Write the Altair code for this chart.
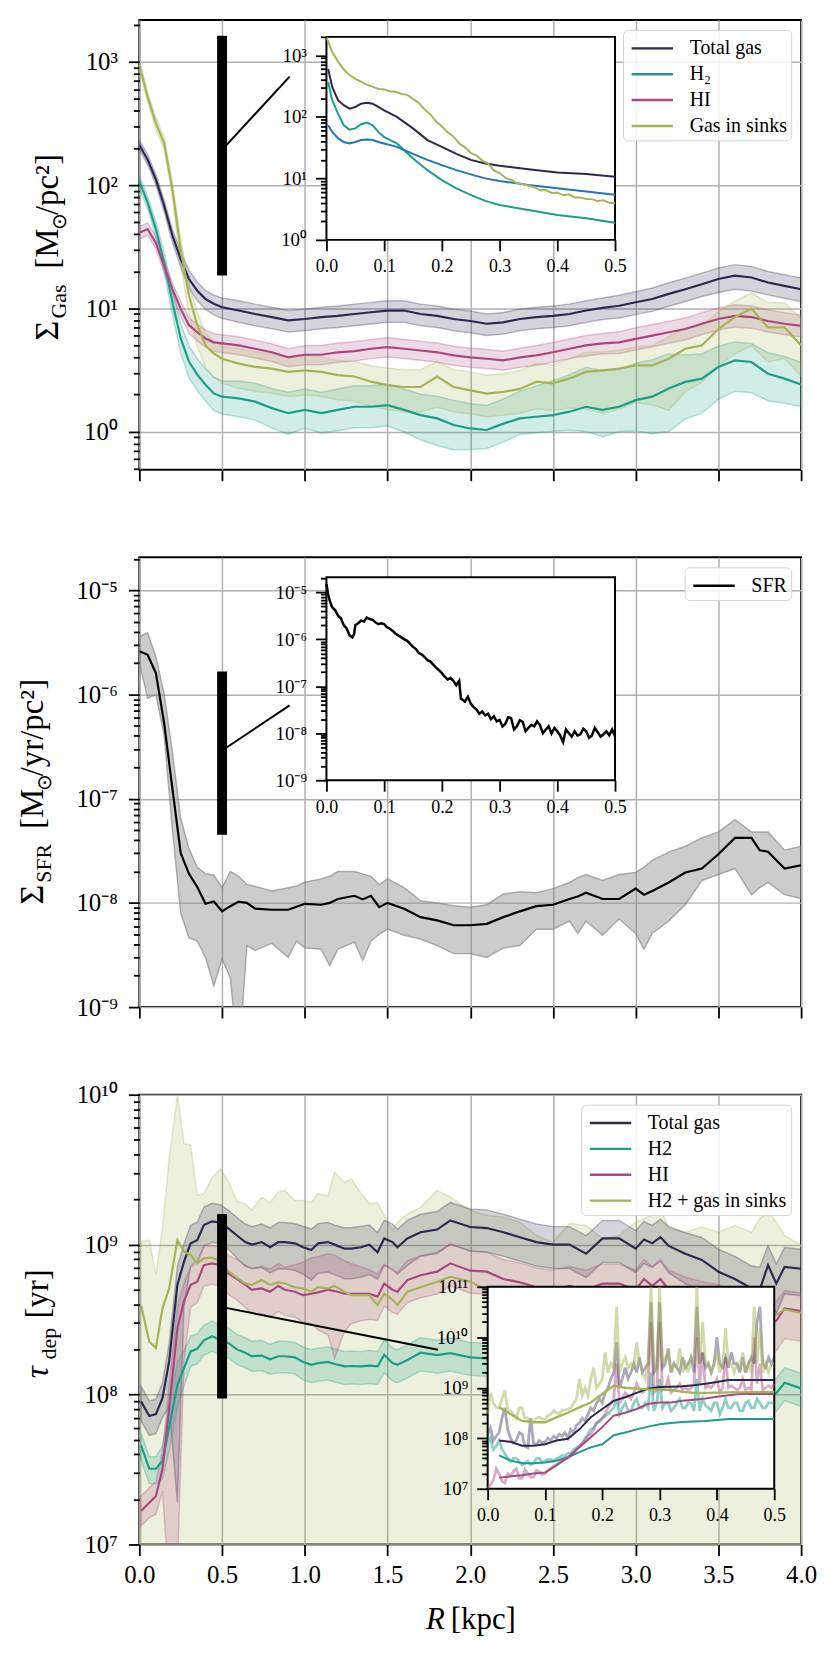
import math
import altair as alt
import pandas as pd

FONT = "Liberation Serif"
NAVY, TEAL, MAG, OLIVE, BLUE = "#2c2950", "#1c9e8b", "#a94880", "#a7b355", "#1f77b4"
W, H = 665, 452

# ---------------- Panel 1 : gas surface density ----------------
R1 = [0.0, 0.05, 0.1, 0.15, 0.2, 0.25, 0.3, 0.35, 0.4, 0.45, 0.5,
      0.6, 0.7, 0.8, 0.9, 1.0, 1.1, 1.2, 1.3, 1.4, 1.5,
      1.6, 1.7, 1.8, 1.9, 2.0, 2.1, 2.2, 2.3, 2.4, 2.5,
      2.6, 2.7, 2.8, 2.9, 3.0, 3.1, 3.2, 3.3, 3.4, 3.5,
      3.6, 3.7, 3.8, 3.9, 4.0]
GAS_TOT = [212, 161, 111, 68, 39, 25, 17.3, 13.9, 11.9, 10.9, 10.2,
           9.6, 9.0, 8.5, 8.0, 8.2, 8.5, 8.7, 9.0, 9.3, 9.6,
           9.6, 9.0, 8.7, 8.2, 7.9, 7.5, 7.7, 8.2, 8.5, 8.7,
           9.0, 9.6, 10.1, 10.5, 11.2, 11.9, 13.1, 14.3, 15.7, 17.3,
           18.4, 17.8, 16.2, 15.2, 14.3]
GAS_H2 = [107, 72, 44, 23.5, 11.2, 5.7, 3.7, 2.9, 2.4, 2.04, 1.92,
          1.86, 1.75, 1.55, 1.41, 1.50, 1.41, 1.50, 1.59, 1.59, 1.64,
          1.50, 1.36, 1.28, 1.13, 1.06, 1.03, 1.16, 1.28, 1.32, 1.36,
          1.45, 1.59, 1.50, 1.59, 1.80, 1.92, 2.24, 2.53, 2.69, 3.34,
          3.78, 3.67, 2.95, 2.69, 2.41]
GAS_HI = [41, 44, 34, 22, 14.3, 9.9, 7.3, 6.4, 5.7, 5.3, 5.2,
          5.0, 4.7, 4.4, 4.0, 4.2, 4.2, 4.4, 4.5, 4.7, 4.85,
          4.7, 4.55, 4.4, 4.15, 4.0, 3.9, 3.78, 4.0, 4.15, 4.4,
          4.7, 5.0, 5.2, 5.3, 5.65, 6.0, 6.4, 6.8, 7.5, 8.2,
          8.7, 8.5, 7.9, 7.5, 7.2]
GAS_SINK = [950, 520, 318, 218, 92, 30, 12.7, 7.3, 5.0, 4.3, 3.9,
            3.56, 3.35, 3.24, 3.05, 3.14, 3.05, 2.87, 2.8, 2.54, 2.38,
            2.3, 2.3, 2.8, 2.3, 2.16, 2.03, 2.1, 2.22, 2.54, 2.46,
            2.7, 3.05, 3.14, 3.24, 3.44, 3.44, 3.9, 4.7, 5.0, 6.8,
            8.5, 9.9, 7.0, 7.0, 5.0]
# band half-widths (dex above / below the median)
TOT_UP = [0.04, 0.04, 0.04, 0.045, 0.05, 0.06, 0.07, 0.07, 0.07, 0.07, 0.075,
          0.08, 0.08, 0.08, 0.08, 0.08, 0.08, 0.08, 0.08, 0.08, 0.08,
          0.08, 0.08, 0.08, 0.08, 0.08, 0.08, 0.08, 0.08, 0.08, 0.08,
          0.08, 0.08, 0.08, 0.085, 0.085, 0.09, 0.09, 0.09, 0.09, 0.09,
          0.09, 0.09, 0.09, 0.09, 0.09]
TOT_LO = [0.04, 0.04, 0.045, 0.05, 0.055, 0.065, 0.075, 0.08, 0.085, 0.09, 0.09,
          0.095, 0.095, 0.095, 0.095, 0.095, 0.095, 0.095, 0.095, 0.095, 0.095,
          0.095, 0.095, 0.095, 0.095, 0.095, 0.095, 0.095, 0.095, 0.095, 0.095,
          0.095, 0.095, 0.095, 0.1, 0.1, 0.1, 0.1, 0.1, 0.1, 0.11,
          0.11, 0.11, 0.1, 0.1, 0.1]
H2_UP = [0.05, 0.05, 0.06, 0.08, 0.1, 0.12, 0.13, 0.13, 0.13, 0.13, 0.13,
         0.14, 0.15, 0.16, 0.17, 0.17, 0.17, 0.17, 0.17, 0.17, 0.17,
         0.17, 0.17, 0.18, 0.2, 0.2, 0.2, 0.2, 0.22, 0.25, 0.28,
         0.3, 0.32, 0.32, 0.3, 0.3, 0.3, 0.28, 0.22, 0.2, 0.17,
         0.15, 0.15, 0.17, 0.18, 0.18]
H2_LO = [0.05, 0.05, 0.06, 0.08, 0.1, 0.12, 0.13, 0.13, 0.13, 0.14, 0.14,
         0.15, 0.15, 0.16, 0.17, 0.15, 0.16, 0.17, 0.17, 0.17, 0.17,
         0.18, 0.2, 0.22, 0.2, 0.17, 0.15, 0.15, 0.13, 0.13, 0.13,
         0.15, 0.2, 0.22, 0.2, 0.25, 0.3, 0.35, 0.3, 0.28, 0.26,
         0.25, 0.25, 0.22, 0.2, 0.18]
HI_UP = [0.05, 0.05, 0.05, 0.05, 0.05, 0.06, 0.06, 0.065, 0.07, 0.07, 0.07,
         0.07, 0.07, 0.07, 0.07, 0.075, 0.075, 0.075, 0.075, 0.075, 0.075,
         0.075, 0.075, 0.075, 0.075, 0.075, 0.075, 0.075, 0.075, 0.08, 0.08,
         0.08, 0.08, 0.08, 0.085, 0.09, 0.09, 0.09, 0.09, 0.09, 0.09,
         0.09, 0.09, 0.09, 0.09, 0.09]
HI_LO = [0.05, 0.05, 0.05, 0.05, 0.05, 0.06, 0.065, 0.07, 0.07, 0.075, 0.075,
         0.075, 0.075, 0.075, 0.075, 0.08, 0.08, 0.08, 0.08, 0.08, 0.08,
         0.08, 0.08, 0.08, 0.08, 0.08, 0.08, 0.08, 0.08, 0.08, 0.08,
         0.08, 0.085, 0.085, 0.09, 0.09, 0.09, 0.09, 0.09, 0.09, 0.09,
         0.09, 0.09, 0.09, 0.09, 0.09]
SINK_UP = [0.04, 0.04, 0.05, 0.05, 0.06, 0.08, 0.1, 0.1, 0.1, 0.1, 0.1,
           0.12, 0.12, 0.12, 0.12, 0.12, 0.12, 0.12, 0.12, 0.13, 0.14,
           0.14, 0.14, 0.12, 0.14, 0.15, 0.15, 0.15, 0.15, 0.15, 0.15,
           0.16, 0.16, 0.15, 0.15, 0.15, 0.16, 0.18, 0.17, 0.16, 0.14,
           0.13, 0.13, 0.2, 0.2, 0.22]
SINK_LO = [0.04, 0.04, 0.05, 0.05, 0.07, 0.12, 0.15, 0.17, 0.18, 0.19, 0.2,
           0.2, 0.2, 0.2, 0.2, 0.2, 0.2, 0.2, 0.2, 0.2, 0.2,
           0.2, 0.2, 0.25, 0.2, 0.19, 0.19, 0.19, 0.2, 0.22, 0.22,
           0.24, 0.3, 0.35, 0.33, 0.3, 0.32, 0.42, 0.35, 0.3, 0.3,
           0.3, 0.3, 0.28, 0.25, 0.25]
NAMES1 = ["Total gas", "H₂", "HI", "Gas in sinks"]

# inset of panel 1 (0 - 0.5 kpc)
I1X = [0.003, 0.01, 0.02, 0.03, 0.04, 0.05, 0.06, 0.07, 0.08, 0.09, 0.10, 0.122,
       0.15, 0.175, 0.2, 0.225, 0.25, 0.275, 0.3, 0.35, 0.4, 0.45, 0.5]
I1_TOT = [600, 306, 187, 155, 136, 145, 164, 170, 164, 145, 128, 100,
          65, 42, 32.5, 25, 20, 17.5, 16, 14.1, 12.5, 11.8, 10.6]
I1_H2 = [370, 187, 113, 73, 62, 65, 76, 81, 73, 57, 47, 37,
         21, 13.6, 9.4, 6.9, 5.4, 4.3, 3.7, 3.06, 2.54, 2.24, 1.9]
I1_HI = [73, 57, 45, 39, 37, 39, 42, 43, 42, 39, 37, 32.5,
         25, 20, 16.4, 13.6, 11.6, 10, 9.1, 7.8, 6.9, 6.1, 5.4]
I1SX = [0.0, 0.01, 0.02, 0.03, 0.04, 0.05, 0.06, 0.07, 0.08, 0.09, 0.10,
        0.11, 0.12, 0.13, 0.14, 0.15, 0.16, 0.17, 0.18, 0.19, 0.20,
        0.21, 0.22, 0.23, 0.24, 0.25, 0.26, 0.27, 0.28, 0.29, 0.30,
        0.31, 0.32, 0.33, 0.34, 0.35, 0.36, 0.37, 0.38, 0.39, 0.40,
        0.41, 0.42, 0.43, 0.44, 0.45, 0.46, 0.47, 0.48, 0.49, 0.50]
I1_SINK = [2200, 1130, 800, 590, 480, 415, 375, 335, 310, 285, 280,
           262, 256, 236, 228, 196, 168, 132, 110, 84, 70,
           56, 48, 37, 32, 26, 23.5, 19.5, 17.5, 13.5, 12.2,
           10.2, 9.5, 8.3, 8.1, 7.6, 7.2, 6.4, 6.5, 5.8, 5.9,
           5.3, 5.5, 4.9, 4.9, 4.6, 4.6, 4.3, 4.4, 4.0, 3.9]

# ---------------- Panel 2 : SFR surface density ----------------
R2 = [0.0, 0.05, 0.1, 0.15, 0.2, 0.25, 0.3, 0.35, 0.4, 0.45,
      0.5, 0.55, 0.6, 0.65, 0.7, 0.8, 0.9, 0.95, 1.0, 1.1,
      1.15, 1.2, 1.3, 1.35, 1.4, 1.45, 1.5, 1.6, 1.7, 1.8,
      1.9, 2.0, 2.1, 2.2, 2.3, 2.4, 2.5, 2.6, 2.65, 2.7,
      2.8, 2.9, 3.0, 3.05, 3.1, 3.2, 3.3, 3.4, 3.5, 3.6,
      3.7, 3.75, 3.8, 3.9, 4.0]
SFR_MED = [2.6e-6, 2.4e-6, 1.6e-6, 5.3e-7, 1.24e-7, 3.0e-8, 1.9e-8, 1.42e-8, 9.8e-9, 1.03e-8,
           8.3e-9, 9.3e-9, 1.03e-8, 1.0e-8, 8.8e-9, 8.6e-9, 8.6e-9, 9.2e-9, 9.8e-9, 9.6e-9,
           1.0e-8, 1.09e-8, 1.17e-8, 1.08e-8, 1.17e-8, 9.1e-9, 1.0e-8, 8.8e-9, 7.3e-9, 6.8e-9,
           6.1e-9, 6.1e-9, 6.3e-9, 7.3e-9, 8.3e-9, 9.3e-9, 9.6e-9, 1.09e-8, 1.15e-8, 1.25e-8,
           1.09e-8, 1.09e-8, 1.37e-8, 1.2e-8, 1.3e-8, 1.57e-8, 1.96e-8, 2.14e-8, 2.93e-8, 4.2e-8,
           4.2e-8, 3.2e-8, 3.1e-8, 2.14e-8, 2.3e-8]
SFR_HI = [3.6e-6, 3.9e-6, 2.3e-6, 1.0e-6, 2.75e-7, 6.5e-8, 3.3e-8, 2.2e-8, 1.9e-8, 1.85e-8,
          1.4e-8, 2.0e-8, 1.8e-8, 1.5e-8, 1.44e-8, 1.3e-8, 1.4e-8, 1.45e-8, 1.58e-8, 1.7e-8,
          1.8e-8, 2.0e-8, 2.0e-8, 1.9e-8, 1.8e-8, 1.5e-8, 1.7e-8, 1.4e-8, 1.05e-8, 1.0e-8,
          9.4e-9, 9.1e-9, 9.6e-9, 1.22e-8, 1.28e-8, 1.25e-8, 1.37e-8, 1.57e-8, 1.75e-8, 1.87e-8,
          1.64e-8, 1.87e-8, 1.96e-8, 2.2e-8, 2.56e-8, 3.07e-8, 3.5e-8, 4.2e-8, 4.8e-8, 6.3e-8,
          4.8e-8, 4.8e-8, 4.8e-8, 3.2e-8, 3.5e-8]
SFR_LO = [2.0e-6, 9.2e-7, 1.0e-6, 4.0e-7, 5.0e-8, 8.0e-9, 4.6e-9, 4.3e-9, 3.0e-9, 1.6e-9,
          2.9e-9, 1.9e-9, 3.0e-10, 3.9e-9, 3.5e-9, 4.1e-9, 3.0e-9, 4.3e-9, 3.7e-9, 3.6e-9,
          2.5e-9, 3.6e-9, 4.2e-9, 2.8e-9, 4.3e-9, 5.0e-9, 5.6e-9, 4.9e-9, 4.5e-9, 3.9e-9,
          3.26e-9, 3.26e-9, 3.0e-9, 3.7e-9, 3.9e-9, 5.6e-9, 5.6e-9, 6.7e-9, 5.1e-9, 6.7e-9,
          4.9e-9, 7.0e-9, 5.1e-9, 3.6e-9, 5.1e-9, 6.7e-9, 9.6e-9, 1.64e-8, 1.87e-8, 2.14e-8,
          1.2e-8, 1.4e-8, 1.57e-8, 1.2e-8, 1.1e-8]

I2X = [0.0, 0.003, 0.006, 0.01, 0.015, 0.02, 0.025, 0.03, 0.035, 0.04, 0.045, 0.048,
       0.05, 0.055, 0.06, 0.065, 0.07, 0.075, 0.08, 0.085, 0.09, 0.095, 0.10,
       0.105, 0.11, 0.115, 0.12, 0.125, 0.13, 0.135, 0.14, 0.145, 0.15, 0.155,
       0.16, 0.165, 0.17, 0.175, 0.18, 0.185, 0.19, 0.195, 0.20, 0.205, 0.21,
       0.215, 0.22, 0.225, 0.23, 0.233, 0.24, 0.245, 0.25, 0.255, 0.26, 0.265,
       0.27, 0.275, 0.28, 0.285, 0.29, 0.295, 0.30, 0.305, 0.31, 0.315, 0.32,
       0.325, 0.33, 0.335, 0.34, 0.345, 0.35, 0.355, 0.36, 0.365, 0.37, 0.375,
       0.38, 0.385, 0.39, 0.395, 0.40, 0.405, 0.41, 0.415, 0.42, 0.425, 0.43,
       0.435, 0.44, 0.445, 0.45, 0.455, 0.46, 0.465, 0.47, 0.475, 0.48, 0.485,
       0.49, 0.495, 0.50]
I2_SFR = [1.5e-5, 9e-6, 6.5e-6, 4.8e-6, 4.2e-6, 3.2e-6, 2.8e-6, 2.0e-6, 1.7e-6, 1.22e-6, 1.1e-6, 1.3e-6,
          2.0e-6, 2.2e-6, 2.5e-6, 2.4e-6, 2.9e-6, 2.7e-6, 2.6e-6, 2.3e-6, 2.1e-6, 2.2e-6, 2.1e-6,
          1.8e-6, 1.68e-6, 1.5e-6, 1.32e-6, 1.2e-6, 1.1e-6, 1.0e-6, 9.3e-7, 8.0e-7, 6.9e-7, 6.2e-7,
          5.1e-7, 4.8e-7, 4.2e-7, 3.6e-7, 3.4e-7, 2.9e-7, 2.5e-7, 2.2e-7, 1.9e-7, 1.6e-7, 1.4e-7,
          1.5e-7, 1.3e-7, 1.05e-7, 1.3e-7, 5.5e-8, 4.7e-8, 6.0e-8, 4.3e-8, 3.6e-8, 3.2e-8, 2.6e-8,
          2.9e-8, 2.4e-8, 2.6e-8, 2.0e-8, 2.3e-8, 1.8e-8, 1.93e-8, 1.4e-8, 1.6e-8, 2.2e-8, 2.1e-8,
          1.2e-8, 1.4e-8, 1.9e-8, 1.75e-8, 1.1e-8, 1.3e-8, 1.5e-8, 1.4e-8, 1.8e-8, 1.5e-8, 1.0e-8,
          1.2e-8, 1.4e-8, 9.9e-9, 1.3e-8, 1.1e-8, 9.0e-9, 6.5e-9, 1.2e-8, 1.0e-8, 8.5e-9, 1.1e-8,
          9.0e-9, 9.5e-9, 1.25e-8, 1.1e-8, 8.0e-9, 9.0e-9, 1.3e-8, 1.05e-8, 8.5e-9, 9.5e-9, 1.1e-8,
          9.0e-9, 1.2e-8, 8.6e-9]

# ---------------- Panel 3 : depletion time ----------------
R3 = [0.01, 0.06, 0.10, 0.14, 0.18, 0.23, 0.27, 0.31, 0.35, 0.39,
      0.44, 0.49, 0.54, 0.59, 0.64, 0.68, 0.74, 0.79, 0.84, 0.88,
      0.94, 0.99, 1.04, 1.08, 1.14, 1.18, 1.24, 1.28, 1.34, 1.39,
      1.44, 1.48, 1.53, 1.56, 1.62,
      1.70, 1.80, 1.88, 2.0, 2.1, 2.2, 2.3, 2.4, 2.5, 2.6,
      2.7, 2.8, 2.9, 3.0, 3.05, 3.1, 3.15, 3.2, 3.3, 3.4,
      3.5, 3.6, 3.7, 3.75, 3.8, 3.85, 3.9, 4.0]
TAU_TOT = [9.0e7, 7.2e7, 7.4e7, 9.5e7, 1.66e8, 5.4e8, 7.7e8, 1.02e9, 1.07e9, 1.35e9,
           1.43e9, 1.4e9, 1.28e9, 1.15e9, 1.04e9, 1.0e9, 1.04e9, 9.6e8, 1.04e9, 1.04e9,
           1.02e9, 9.6e8, 9.2e8, 1.02e9, 1.04e9, 1.0e9, 9.4e8, 9.4e8, 9.6e8, 1.0e9,
           8.9e8, 1.1e9, 1.04e9, 9.6e8, 1.1e9,
           1.21e9, 1.26e9, 1.45e9, 1.31e9, 1.29e9, 1.21e9, 1.12e9, 1.04e9, 1.0e9, 1.0e9,
           8.7e8, 1.1e9, 1.1e9, 9.4e8, 1.08e9, 1.02e9, 1.12e9, 9.8e8, 8.7e8, 7.9e8,
           6.6e8, 5.9e8, 5.1e8, 5.0e8, 7.3e8, 5.5e8, 7.1e8, 6.9e8]
TAU_H2 = [4.6e7, 3.2e7, 3.2e7, 3.6e7, 6.0e7, 1.16e8, 1.5e8, 1.94e8, 2.02e8, 2.3e8,
          2.45e8, 2.3e8, 2.2e8, 2.0e8, 1.9e8, 1.8e8, 1.82e8, 1.72e8, 1.8e8, 1.8e8,
          1.77e8, 1.65e8, 1.58e8, 1.62e8, 1.65e8, 1.6e8, 1.54e8, 1.55e8, 1.54e8, 1.56e8,
          1.54e8, 1.84e8, 1.62e8, 1.58e8, 1.7e8,
          1.9e8, 1.83e8, 1.89e8, 1.77e8, 1.74e8, 1.7e8, 1.65e8, 1.6e8, 1.6e8, 1.55e8,
          1.5e8, 1.5e8, 1.55e8, 1.5e8, 1.55e8, 1.5e8, 1.45e8, 1.4e8, 1.4e8, 1.35e8,
          1.3e8, 1.2e8, 1.1e8, 1.05e8, 1.0e8, 1.02e8, 1.2e8, 1.1e8]
TAU_HI = [1.67e7, 1.9e7, 2.1e7, 3.2e7, 8.1e7, 2.77e8, 4.2e8, 5.4e8, 5.65e8, 7.3e8,
          7.5e8, 7.3e8, 6.4e8, 5.9e8, 5.4e8, 5.0e8, 5.1e8, 4.85e8, 5.3e8, 5.0e8,
          4.85e8, 4.6e8, 4.7e8, 4.8e8, 5.0e8, 4.9e8, 4.7e8, 4.7e8, 4.7e8, 4.7e8,
          4.5e8, 5.5e8, 5.0e8, 4.85e8, 5.8e8,
          6.25e8, 6.6e8, 7.5e8, 6.7e8, 6.6e8, 5.9e8, 5.6e8, 5.2e8, 5.0e8, 5.3e8,
          5.0e8, 5.5e8, 5.5e8, 5.0e8, 5.9e8, 5.3e8, 5.9e8, 5.0e8, 4.5e8, 4.2e8,
          4.0e8, 3.6e8, 3.3e8, 3.2e8, 3.0e8, 3.1e8, 3.75e8, 3.6e8]
TAU_SINK = [3.95e8, 2.25e8, 2.04e8, 3.76e8, 5.1e8, 1.07e9, 9.0e8, 8.5e8, 7.5e8, 8.1e8,
            8.2e8, 7.7e8, 6.6e8, 6.0e8, 5.5e8, 5.4e8, 5.8e8, 5.4e8, 5.6e8, 5.5e8,
            5.2e8, 5.1e8, 4.85e8, 5.2e8, 5.1e8, 5.3e8, 4.85e8, 4.6e8, 4.6e8, 4.6e8,
            3.95e8, 4.7e8, 4.3e8, 3.95e8, 4.85e8,
            5.2e8, 5.65e8, 6.1e8, 5.65e8, 5.0e8, 4.8e8, 4.6e8, 4.5e8, 4.5e8, 4.6e8,
            4.5e8, 4.6e8, 4.6e8, 4.5e8, 4.5e8, 4.4e8, 4.4e8, 4.3e8, 4.2e8, 4.1e8,
            4.0e8, 3.8e8, 3.5e8, 3.4e8, 3.3e8, 3.4e8, 3.7e8, 3.5e8]
TAU_SINK_UPPER = [1.04e9, 1.07e9, 6.25e8, 1.28e9, 3.7e9, 1.0e10, 4.7e9, 4.6e9, 2.13e9, 2.18e9,
                  2.8e9, 3.2e9, 2.6e9, 1.95e9, 1.87e9, 1.7e9, 2.07e9, 1.9e9, 2.24e9, 2.3e9,
                  1.97e9, 1.97e9, 1.92e9, 2.2e9, 2.1e9, 3.04e9, 2.6e9, 2.75e9, 2.2e9, 1.87e9,
                  1.9e9, 1.57e9, 1.25e9, 1.41e9, 1.6e9,
                  1.78e9, 2.3e9, 2.07e9, 1.69e9, 1.57e9, 1.53e9, 1.41e9, 1.15e9, 1.04e9, 1.38e9,
                  1.34e9, 1.1e9, 1.15e9, 1.41e9, 1.49e9, 1.57e9, 1.74e9, 1.28e9, 1.21e9, 1.31e9,
                  1.21e9, 1.34e9, 1.21e9, 1.49e9, 1.65e9, 1.41e9, 1.15e9, 9.9e8]
# lower edge of the sink band lies below the axis everywhere
TAU_SINK_LOWER = [1e6, 1e6, 1e6, 1e6, 1e6, 1e6, 1e6, 1e6, 1e6, 1e6,
                  1e6, 1e6, 1e6, 1e6, 1e6, 1e6, 1e6, 1e6, 1e6, 1e6,
                  1e6, 1e6, 1e6, 1e6, 1e6, 1e6, 1e6, 1e6, 1e6, 1e6,
                  1e6, 1e6, 1e6, 1e6, 1e6,
                  1e6, 1e6, 1e6, 1e6, 1e6, 1e6, 1e6, 1e6, 1e6, 1e6,
                  1e6, 1e6, 1e6, 1e6, 1e6, 1e6, 1e6, 1e6, 1e6, 1e6,
                  1e6, 1e6, 1e6, 1e6, 1e6, 1e6, 1e6, 1e6]
NAV3_UP = [0.1, 0.1, 0.1, 0.1, 0.12, 0.12, 0.12, 0.12, 0.12, 0.12,
           0.12, 0.12, 0.12, 0.12, 0.12, 0.12, 0.12, 0.13, 0.13, 0.13,
           0.13, 0.14, 0.14, 0.13, 0.13, 0.13, 0.14, 0.14, 0.14, 0.13,
           0.13, 0.12, 0.12, 0.12, 0.12,
           0.12, 0.12, 0.12, 0.12, 0.12, 0.12, 0.12, 0.12, 0.12, 0.12,
           0.12, 0.12, 0.12, 0.12, 0.12, 0.12, 0.12, 0.13, 0.14, 0.15,
           0.15, 0.15, 0.15, 0.15, 0.13, 0.13, 0.13, 0.13]
NAV3_LO = [0.13, 0.13, 0.13, 0.13, 0.3, 1.45, 0.3, 0.15, 0.14, 0.14,
           0.14, 0.14, 0.14, 0.15, 0.16, 0.16, 0.17, 0.17, 0.18, 0.18,
           0.18, 0.18, 0.2, 0.2, 0.2, 0.2, 0.2, 0.2, 0.2, 0.2,
           0.18, 0.18, 0.18, 0.18, 0.18,
           0.16, 0.16, 0.16, 0.16, 0.16, 0.16, 0.16, 0.16, 0.16, 0.16,
           0.16, 0.16, 0.16, 0.16, 0.16, 0.16, 0.16, 0.18, 0.2, 0.2,
           0.22, 0.22, 0.22, 0.22, 0.2, 0.2, 0.18, 0.18]
MAG3_UP = [0.1, 0.1, 0.1, 0.12, 0.15, 0.15, 0.12, 0.12, 0.12, 0.12,
           0.12, 0.12, 0.12, 0.13, 0.13, 0.14, 0.15, 0.15, 0.15, 0.15,
           0.18, 0.22, 0.24, 0.24, 0.24, 0.24, 0.22, 0.2, 0.18, 0.16,
           0.15, 0.13, 0.13, 0.13, 0.13,
           0.13, 0.13, 0.13, 0.13, 0.13, 0.13, 0.13, 0.13, 0.13, 0.13,
           0.13, 0.13, 0.13, 0.13, 0.13, 0.13, 0.13, 0.13, 0.13, 0.13,
           0.13, 0.13, 0.13, 0.13, 0.13, 0.13, 0.12, 0.12]
MAG3_LO = [0.1, 0.1, 0.12, 0.15, 1.2, 1.6, 0.4, 0.15, 0.14, 0.14,
           0.14, 0.14, 0.14, 0.14, 0.15, 0.16, 0.17, 0.17, 0.17, 0.17,
           0.17, 0.18, 0.2, 0.25, 0.3, 0.45, 0.25, 0.2, 0.18, 0.17,
           0.16, 0.15, 0.15, 0.15, 0.15,
           0.15, 0.15, 0.15, 0.15, 0.15, 0.15, 0.15, 0.15, 0.15, 0.15,
           0.15, 0.15, 0.15, 0.15, 0.15, 0.15, 0.15, 0.15, 0.15, 0.15,
           0.15, 0.15, 0.15, 0.15, 0.15, 0.2, 0.2, 0.2]
TEAL3_UP = [0.08, 0.08, 0.08, 0.1, 0.15, 0.15, 0.12, 0.1, 0.1, 0.1,
            0.1, 0.1, 0.1, 0.1, 0.1, 0.1, 0.1, 0.1, 0.1, 0.1,
            0.1, 0.1, 0.1, 0.1, 0.1, 0.1, 0.1, 0.1, 0.1, 0.1,
            0.1, 0.1, 0.1, 0.1, 0.1,
            0.1, 0.1, 0.1, 0.1, 0.1, 0.1, 0.1, 0.1, 0.1, 0.1,
            0.1, 0.1, 0.1, 0.1, 0.1, 0.1, 0.1, 0.1, 0.1, 0.1,
            0.1, 0.1, 0.1, 0.1, 0.1, 0.1, 0.1, 0.1]
TEAL3_LO = [0.1, 0.1, 0.1, 0.12, 0.15, 0.15, 0.12, 0.1, 0.1, 0.1,
            0.1, 0.1, 0.1, 0.1, 0.1, 0.1, 0.1, 0.1, 0.11, 0.11,
            0.11, 0.12, 0.12, 0.12, 0.12, 0.12, 0.12, 0.12, 0.12, 0.12,
            0.12, 0.12, 0.12, 0.12, 0.12,
            0.12, 0.12, 0.12, 0.12, 0.12, 0.12, 0.12, 0.12, 0.12, 0.12,
            0.12, 0.12, 0.12, 0.12, 0.12, 0.12, 0.12, 0.12, 0.12, 0.12,
            0.12, 0.12, 0.12, 0.12, 0.12, 0.12, 0.12, 0.12]
NAMES3 = ["Total gas", "H2", "HI", "H2 + gas in sinks"]

I3X = [0.02, 0.04, 0.06, 0.08, 0.10, 0.12, 0.14, 0.16, 0.18, 0.20, 0.22, 0.24, 0.26,
       0.28, 0.30, 0.32, 0.34, 0.36, 0.38, 0.40, 0.42, 0.44, 0.46, 0.48, 0.50]
I3_SINK = [4.1e8, 3.0e8, 2.2e8, 2.07e8, 2.07e8, 2.6e8, 3.2e8, 4.1e8, 5.1e8, 7.5e8, 1.1e9, 1.0e9, 9.6e8,
           9.3e8, 9.2e8, 9.0e8, 8.3e8, 7.9e8, 7.9e8, 8.0e8, 8.1e8, 8.1e8, 8.2e8, 8.2e8, 8.3e8]
I3_TOT = [9e7, 8.5e7, 7.1e7, 7.1e7, 7.6e7, 9e7, 9.8e7, 1.5e8, 2.6e8, 3.8e8, 5.5e8, 6.5e8, 7.9e8,
          9.6e8, 1.03e9, 1.05e9, 1.07e9, 1.12e9, 1.2e9, 1.3e9, 1.42e9, 1.42e9, 1.42e9, 1.42e9, 1.42e9]
I3_HI = [1.66e7, 1.76e7, 1.85e7, 2e7, 2.1e7, 2.9e7, 4.2e7, 6.6e7, 1.05e8, 1.66e8, 2.8e8, 3.2e8, 3.8e8,
         4.8e8, 5.1e8, 5.1e8, 5.5e8, 5.8e8, 6.1e8, 6.6e8, 7.1e8, 7.5e8, 7.5e8, 7.5e8, 7.5e8]
I3_H2 = [4.6e7, 3.6e7, 3.2e7, 3.2e7, 3.3e7, 3.6e7, 4.2e7, 5.3e7, 6.6e7, 7.6e7, 1.15e8, 1.3e8, 1.5e8,
         1.7e8, 1.9e8, 2.0e8, 2.1e8, 2.15e8, 2.2e8, 2.3e8, 2.4e8, 2.4e8, 2.4e8, 2.4e8, 2.4e8]
# unsmoothed (noisy) profiles of the panel-3 inset, sampled every 5 pc
I3NX = [0.000, 0.005, 0.010, 0.015, 0.020, 0.025, 0.030, 0.035, 0.040, 0.045,
        0.050, 0.055, 0.060, 0.065, 0.070, 0.075, 0.080, 0.085, 0.090, 0.095, 0.100,
        0.105, 0.110, 0.115, 0.120, 0.125, 0.130, 0.135, 0.140, 0.145, 0.150,
        0.155, 0.160, 0.165, 0.170, 0.175, 0.180, 0.185, 0.190, 0.195, 0.200,
        0.205, 0.210, 0.215, 0.220, 0.225, 0.230, 0.235, 0.240, 0.245, 0.250,
        0.255, 0.260, 0.265, 0.270, 0.275, 0.280, 0.285, 0.290, 0.295, 0.300,
        0.305, 0.310, 0.315, 0.320, 0.325, 0.330, 0.335, 0.340, 0.345, 0.350,
        0.355, 0.360, 0.365, 0.370, 0.375, 0.380, 0.385, 0.390, 0.395, 0.400,
        0.405, 0.410, 0.415, 0.420, 0.425, 0.430, 0.435, 0.440, 0.445, 0.450,
        0.455, 0.460, 0.465, 0.470, 0.475, 0.480, 0.485, 0.490, 0.495, 0.500]
I3N_TOT = [1.2e8, 1.6e8, 9e7, 1.1e8, 1.3e8, 2.5e8, 4e8, 1.5e8, 1e8, 8e7,
           9e7, 1.3e8, 1.2e8, 7e7, 6.5e7, 2.5e8, 8e7, 7.5e7, 9e7, 8e7, 8.5e7,
           1.0e8, 9e7, 1.1e8, 1e8, 1.2e8, 1.1e8, 1.3e8, 1e8, 1.5e8, 1.3e8,
           1.8e8, 2e8, 2.5e8, 2.2e8, 3e8, 4e8, 3.5e8, 5e8, 6e8, 5e8,
           8e8, 1e9, 1.5e9, 2e9, 8e9, 1e9, 1.5e9, 2.5e9, 1.5e9, 2e9,
           3e9, 2e9, 4e9, 2e9, 2.5e9, 3e9, 5e10, 2e9, 2.5e9, 5e10,
           2.5e9, 3e9, 6e9, 2e9, 3e9, 2.5e9, 2e9, 4e9, 2.5e9, 3e9,
           4e9, 2e9, 4e10, 3e9, 5e9, 2.5e9, 3e9, 2e9, 3e9, 1e10,
           3e9, 2.5e9, 4e9, 2.5e9, 5e9, 3e9, 3e9, 2e9, 4e9, 2e9,
           3e9, 4e9, 3e9, 2e10, 4e10, 3e9, 2.5e9, 4e9, 3e9, 4e9]
I3N_SINK = [3e8, 8e8, 5e8, 4e8, 4e8, 6e8, 9e8, 3.5e8, 3.5e8, 3e8,
            2.5e8, 4e8, 4e8, 2.5e8, 2.5e8, 2.2e8, 2.2e8, 2.5e8, 2.6e8, 2.4e8, 2.4e8,
            2.8e8, 3e8, 3.5e8, 3.2e8, 3e8, 3.6e8, 3.6e8, 3.8e8, 4e8, 5e8,
            6e8, 1.5e9, 7e8, 1e9, 7e8, 1.5e9, 2.5e9, 1e9, 1.2e9, 1.5e9,
            5e9, 2e9, 3e9, 2.5e9, 4e10, 2e9, 3e9, 4e9, 2.5e9, 3e9,
            2.5e9, 8e9, 3e9, 2e9, 1.5e9, 3e9, 2e11, 3e9, 2e9, 2e11,
            3e9, 4e9, 5e9, 2e9, 3e9, 2.5e9, 6e9, 2e9, 3e9, 2e9,
            4e9, 3e9, 1.2e11, 3e9, 2e10, 3e9, 3e9, 2e9, 3e9, 5e9,
            2e9, 3e9, 1.5e10, 3e9, 3e9, 2e9, 3e9, 2.5e9, 5e9, 2e9,
            3e9, 2e9, 4e10, 3e9, 1.5e10, 2e9, 3e9, 2e9, 3e9, 3e9]
I3N_H2 = [8e7, 1e8, 6e7, 7e7, 9e7, 6e7, 5e7, 4e7, 3.5e7, 4e7,
          4e7, 3.5e7, 3e7, 3.2e7, 3.5e7, 3e7, 3.2e7, 4e7, 4e7, 3.3e7, 3.5e7,
          3.8e7, 3.8e7, 3.5e7, 4e7, 4.2e7, 4.5e7, 4.5e7, 5e7, 5e7, 6e7,
          6.5e7, 7e7, 8e7, 1e8, 1.2e8, 1.5e8, 1.6e8, 2e8, 2.2e8, 2.5e8,
          2.8e8, 3e8, 3.5e8, 4e8, 6e8, 3e8, 4e8, 5e8, 3.5e8, 3.5e8,
          5e8, 6e8, 4e8, 4e8, 5e8, 4e8, 2e9, 3.5e8, 5e8, 1.5e9,
          4e8, 5e8, 5e8, 3.5e8, 4e8, 5e8, 6e8, 4e8, 4e8, 5e8,
          5e8, 3.5e8, 1.5e9, 3.5e8, 6e8, 4.5e8, 4e8, 3.5e8, 5e8, 5e8,
          3e8, 4e8, 6e8, 4e8, 4e8, 5e8, 5e8, 3.5e8, 3.5e8, 5e8,
          5.5e8, 4e8, 4e8, 6e8, 5e8, 4e8, 4e8, 5e8, 5e8, 5e8]
I3N_HI = [1e7, 1.2e7, 1.5e7, 2.5e7, 2e7, 1.4e7, 1.3e7, 2e7, 1.8e7, 2.2e7,
          2.5e7, 1.6e7, 1.6e7, 2.4e7, 2e7, 1.7e7, 1.7e7, 2.3e7, 2.2e7, 1.9e7, 2e7,
          2.3e7, 2.5e7, 2.8e7, 3e7, 3.3e7, 3.5e7, 3.8e7, 4e7, 4.5e7, 5e7,
          6e7, 7e7, 8e7, 9e7, 1.1e8, 1.2e8, 1.5e8, 2e8, 2.2e8, 2.5e8,
          3e8, 4e8, 5e8, 6e8, 3e9, 5e8, 6e8, 8e8, 7e8, 6e8,
          8e8, 1.2e9, 9e8, 8e8, 9e8, 1e9, 2e10, 8e8, 9e8, 2e10,
          9e8, 1e9, 1.5e9, 8e8, 9e8, 1e9, 1.2e9, 9e8, 1e9, 9e8,
          1e9, 1.2e9, 1e10, 1.2e9, 5e9, 1e9, 1.1e9, 1e9, 1.2e9, 1.5e9,
          8e8, 1e9, 4e9, 1e9, 1.1e9, 1e9, 9e8, 1e9, 1.5e9, 9e8,
          1e9, 9e8, 1e10, 1.2e9, 3e9, 9e8, 1e9, 1.1e9, 1e9, 1.2e9]

# zoom markers (bar at 0.5 kpc and connector line) in data units
P1_BAR = (0.5, 18.5, 1630); P1_CON = (0.5, 193, 0.908, 760)
P2_BAR = (0.5, 4.5e-8, 1.66e-6); P2_CON = (0.5, 2.9e-7, 0.908, 7.85e-7)
P3_BAR = (0.5, 9.4e7, 1.6e9); P3_CON = (0.5, 3.83e8, 1.805, 1.99e8)

# ---------------- helpers ----------------
SUP = str.maketrans("0123456789-", "⁰¹²³⁴⁵⁶⁷⁸⁹⁻")
L10 = "(log(datum.value)/LN10)"
MAJOR = f"abs({L10} - round({L10})) < 0.001"


def log_ticks(dom):
    lo = math.floor(math.log10(dom[0]))
    hi = math.ceil(math.log10(dom[1]))
    vals, exps = [], []
    for e in range(lo, hi + 1):
        for m in range(1, 10):
            v = float(f"{m}e{e}")
            if dom[0] * 0.9999 <= v <= dom[1] * 1.0001:
                vals.append(v)
                if m == 1:
                    exps.append(e)
    return vals, exps


def label_expr(exps):
    s = "''"
    for e in exps:
        s = f"(round({L10}) == {e} ? '10{str(e).translate(SUP)}' : {s})"
    return f"{MAJOR} ? {s} : ''"


def yaxis(dom, size, pad, offset=0, grid=True, z=0):
    vals, exps = log_ticks(dom)
    kw = dict(values=vals, labelExpr=label_expr(exps), title=None, domain=False,
              tickColor="black", tickWidth=1.8, orient="left",
              tickSize={"condition": {"test": MAJOR, "value": 11}, "value": 6},
              labelFont=FONT, labelColor="black", labelPadding=pad,
              labelFontSize={"condition": {"test": MAJOR, "value": size}, "value": 0},
              labelOverlap=False, labelBound=False, grid=grid, zindex=z)
    if grid:
        kw.update(gridColor="#b0b0b0", gridWidth=1.5,
                  gridOpacity={"condition": {"test": MAJOR, "value": 1}, "value": 0})
    if offset:
        kw["offset"] = offset
    return alt.Axis(**kw)


def xaxis_main(labels):
    return alt.Axis(values=[0, 0.5, 1.0, 1.5, 2.0, 2.5, 3.0, 3.5, 4.0], format=".1f",
                    labels=labels, title=None, domain=False, tickColor="black",
                    tickWidth=1.8, tickSize=11, grid=True, gridColor="#b0b0b0",
                    gridWidth=1.5, labelFont=FONT, labelFontSize=25, labelColor="black",
                    labelPadding=7, labelFlush=False, orient="bottom")


def xaxis_inset(offset):
    return alt.Axis(values=[0, 0.1, 0.2, 0.3, 0.4, 0.5], format=".1f", title=None,
                    domain=False, tickColor="black", tickWidth=1.8, tickSize=11,
                    grid=False, labelFont=FONT, labelFontSize=18, labelColor="black",
                    labelPadding=7, labelFlush=False, orient="bottom", offset=offset,
                    zindex=1)


class Enc:
    def __init__(self, ydom, labels=False, inset=None):
        self.ydom = ydom
        self.labels = labels
        self.inset = inset

    def mx(self, f):
        return alt.X(f"{f}:Q", scale=alt.Scale(domain=[0, 4], nice=False, zero=False),
                     axis=xaxis_main(self.labels))

    def my(self, f):
        return alt.Y(f"{f}:Q", scale=alt.Scale(type="log", domain=self.ydom, nice=False),
                     axis=yaxis(self.ydom, 25, 11))

    def ix(self, f):
        i = self.inset
        return alt.X(f"{f}:Q", scale=alt.Scale(domain=[0, 0.5], nice=False, zero=False,
                                               range=[i["x0"], i["x1"]]),
                     axis=xaxis_inset(-(H - i["yb"])))

    def iy(self, f):
        i = self.inset
        return alt.Y(f"{f}:Q", scale=alt.Scale(type="log", domain=i["dom"], nice=False,
                                               range=[i["yb"], i["yt"]], clamp=True),
                     axis=yaxis(i["dom"], 19, 9, offset=-i["x0"], grid=False, z=1))


def band(r, med, up, lo):
    return pd.DataFrame({"r": r, "lo": [m / 10 ** w for m, w in zip(med, lo)],
                         "hi": [m * 10 ** w for m, w in zip(med, up)]})


def area_layer(e, df, color, op=0.2, sop=0.3):
    return alt.Chart(df).mark_area(clip=True, fill=color, fillOpacity=op, stroke=color,
                                   strokeOpacity=sop, strokeWidth=1.5).encode(
        x=e.mx("r"), y=e.my("lo"), y2=alt.Y2("hi:Q"))


def line_layer(e, r, series, names, colors):
    rows = []
    for name, vals in zip(names, series):
        for x, v in zip(r, vals):
            rows.append({"r": x, "v": v, "s": name})
    df = pd.DataFrame(rows)
    leg = alt.Legend(title=None, orient="top-right", offset=10, symbolType="M-1.6,0H1.6",
                     symbolSize=676, symbolStrokeWidth=2.4, labelFont=FONT,
                     labelFontSize=20, labelColor="black", labelLimit=300,
                     strokeColor="#d4d4d4", fillColor="rgba(255,255,255,0.85)",
                     cornerRadius=5, padding=4, rowPadding=1, symbolOffset=11,
                     labelOffset=23)
    return alt.Chart(df).mark_line(clip=True, strokeWidth=2.2).encode(
        x=e.mx("r"), y=e.my("v"),
        color=alt.Color("s:N", scale=alt.Scale(domain=names, range=colors), legend=leg))


def markers(e, bar, con):
    b = alt.Chart(pd.DataFrame({"x": [bar[0]], "y0": [bar[1]], "y1": [bar[2]]})).mark_rule(
        color="black", strokeWidth=10, strokeCap="butt").encode(
        x=e.mx("x"), y=e.my("y0"), y2=alt.Y2("y1:Q"))
    c = alt.Chart(pd.DataFrame({"x0": [con[0]], "y0": [con[1]], "x1": [con[2]],
                                "y1": [con[3]]})).mark_rule(color="black", strokeWidth=2).encode(
        x=e.mx("x0"), x2=alt.X2("x1:Q"), y=e.my("y0"), y2=alt.Y2("y1:Q"))
    return [b, c]


def txt(s, x, y, size, dx=0, dy=0, angle=270, italic=False):
    return alt.Chart(pd.DataFrame({"t": [s]})).mark_text(
        align="left", baseline="alphabetic", angle=angle, dx=dx, dy=dy, font=FONT,
        fontSize=size, fontStyle="italic" if italic else "normal", color="black").encode(
        text="t:N", x=alt.value(x), y=alt.value(y))


def title_pieces(bx, start, pieces):
    return [txt(s, bx, start, size, dx=dx, dy=dy, italic=it) for s, dx, dy, size, it in pieces]


def inset_frame(e):
    i = e.inset
    df = pd.DataFrame({"x0": [0.0], "x1": [0.5], "y0": [i["dom"][0]], "y1": [i["dom"][1]]})
    return alt.Chart(df).mark_rect(fill="white", stroke="black", strokeWidth=2).encode(
        x=e.ix("x0"), x2=alt.X2("x1:Q"), y=e.iy("y0"), y2=alt.Y2("y1:Q"))


def inset_line(e, xs, ys, color, width=2, opacity=1.0):
    return alt.Chart(pd.DataFrame({"x": xs, "y": ys})).mark_line(
        color=color, strokeWidth=width, opacity=opacity).encode(x=e.ix("x"), y=e.iy("y"))


# ---------------- panel 1 ----------------
e1 = Enc([0.49, 2190], labels=False,
         inset=dict(x0=188, x1=478, yb=221, yt=17, dom=[1, 2000]))
main1 = [area_layer(e1, band(R1, GAS_TOT, TOT_UP, TOT_LO), NAVY),
         area_layer(e1, band(R1, GAS_H2, H2_UP, H2_LO), TEAL),
         area_layer(e1, band(R1, GAS_HI, HI_UP, HI_LO), MAG),
         area_layer(e1, band(R1, GAS_SINK, SINK_UP, SINK_LO), OLIVE),
         line_layer(e1, R1, [GAS_TOT, GAS_H2, GAS_HI, GAS_SINK], NAMES1, [NAVY, TEAL, MAG, OLIVE])]
main1 += markers(e1, P1_BAR, P1_CON)
main1 += title_pieces(-82, 322, [("Σ", 0, 0, 34, False), ("Gas", 22, 8, 22, False),
                                 ("[M", 72, 0, 33, False), ("⊙", 111, 8, 20, False),
                                 ("/pc²]", 126, 0, 33, False)])
ins1 = [inset_frame(e1),
        inset_line(e1, I1X, I1_TOT, NAVY), inset_line(e1, I1X, I1_H2, TEAL),
        inset_line(e1, I1X, I1_HI, BLUE), inset_line(e1, I1SX, I1_SINK, OLIVE)]
p1 = alt.layer(alt.layer(*main1), alt.layer(*ins1)).resolve_scale(
    x="independent", y="independent").properties(width=W, height=H)

# ---------------- panel 2 ----------------
e2 = Enc([1e-9, 2.07e-5], labels=False,
         inset=dict(x0=188, x1=478, yb=224, yt=20, dom=[1e-9, 2.1e-5]))
sfr_band = pd.DataFrame({"r": R2, "lo": SFR_LO, "hi": SFR_HI})
main2 = [area_layer(e2, sfr_band, "gray", op=0.4, sop=0.6),
         line_layer(e2, R2, [SFR_MED], ["SFR"], ["black"])]
main2 += markers(e2, P2_BAR, P2_CON)
main2 += title_pieces(-97, 349, [("Σ", 0, 0, 34, False), ("SFR", 22, 8, 22, False),
                                 ("[M", 76, 0, 33, False), ("⊙", 114, 8, 20, False),
                                 ("/yr/pc²]", 129, 0, 33, False)])
ins2 = [inset_frame(e2), inset_line(e2, I2X, I2_SFR, "black", width=2.5)]
p2 = alt.layer(alt.layer(*main2), alt.layer(*ins2)).resolve_scale(
    x="independent", y="independent").properties(width=W, height=H)

# ---------------- panel 3 ----------------
e3 = Enc([1e7, 1e10], labels=True,
         inset=dict(x0=350, x1=638, yb=396, yt=193, dom=[1e7, 1e11]))
sink3 = pd.DataFrame({"r": R3, "lo": TAU_SINK_LOWER, "hi": TAU_SINK_UPPER})
main3 = [area_layer(e3, sink3, OLIVE),
         area_layer(e3, band(R3, TAU_TOT, NAV3_UP, NAV3_LO), NAVY),
         area_layer(e3, band(R3, TAU_H2, TEAL3_UP, TEAL3_LO), TEAL),
         area_layer(e3, band(R3, TAU_HI, MAG3_UP, MAG3_LO), MAG),
         line_layer(e3, R3, [TAU_TOT, TAU_H2, TAU_HI, TAU_SINK], NAMES3, [NAVY, TEAL, MAG, OLIVE])]
main3 += markers(e3, P3_BAR, P3_CON)
main3 += title_pieces(-92, 285, [("τ", 0, 0, 34, True), ("dep", 19, 8, 22, False),
                                 ("[yr]", 60, 0, 33, False)])
main3 += [txt("R", 288, 537, 31, angle=0, italic=True), txt("[kpc]", 313, 537, 31, angle=0)]
ins3 = [inset_frame(e3),
        inset_line(e3, I3NX, I3N_H2, TEAL, width=2.8, opacity=0.5),
        inset_line(e3, I3X, I3_H2, TEAL),
        inset_line(e3, I3NX, I3N_HI, MAG, width=2.8, opacity=0.45),
        inset_line(e3, I3X, I3_HI, MAG),
        inset_line(e3, I3NX, I3N_TOT, NAVY, width=2.8, opacity=0.4),
        inset_line(e3, I3X, I3_TOT, NAVY),
        inset_line(e3, I3NX, I3N_SINK, OLIVE, width=2.8, opacity=0.5),
        inset_line(e3, I3X, I3_SINK, OLIVE, width=2.4)]
p3 = alt.layer(alt.layer(*main3), alt.layer(*ins3)).resolve_scale(
    x="independent", y="independent").properties(width=W, height=H)

chart = alt.vconcat(p1, p2, p3, spacing=88, bounds="flush").resolve_scale(
    color="independent").properties(
    padding={"left": 7, "top": 7, "right": 5, "bottom": 5}
).configure(font=FONT).configure_view(stroke="black", strokeWidth=2)

chart.save("out.html", embed_options={"renderer": "svg", "actions": False})
